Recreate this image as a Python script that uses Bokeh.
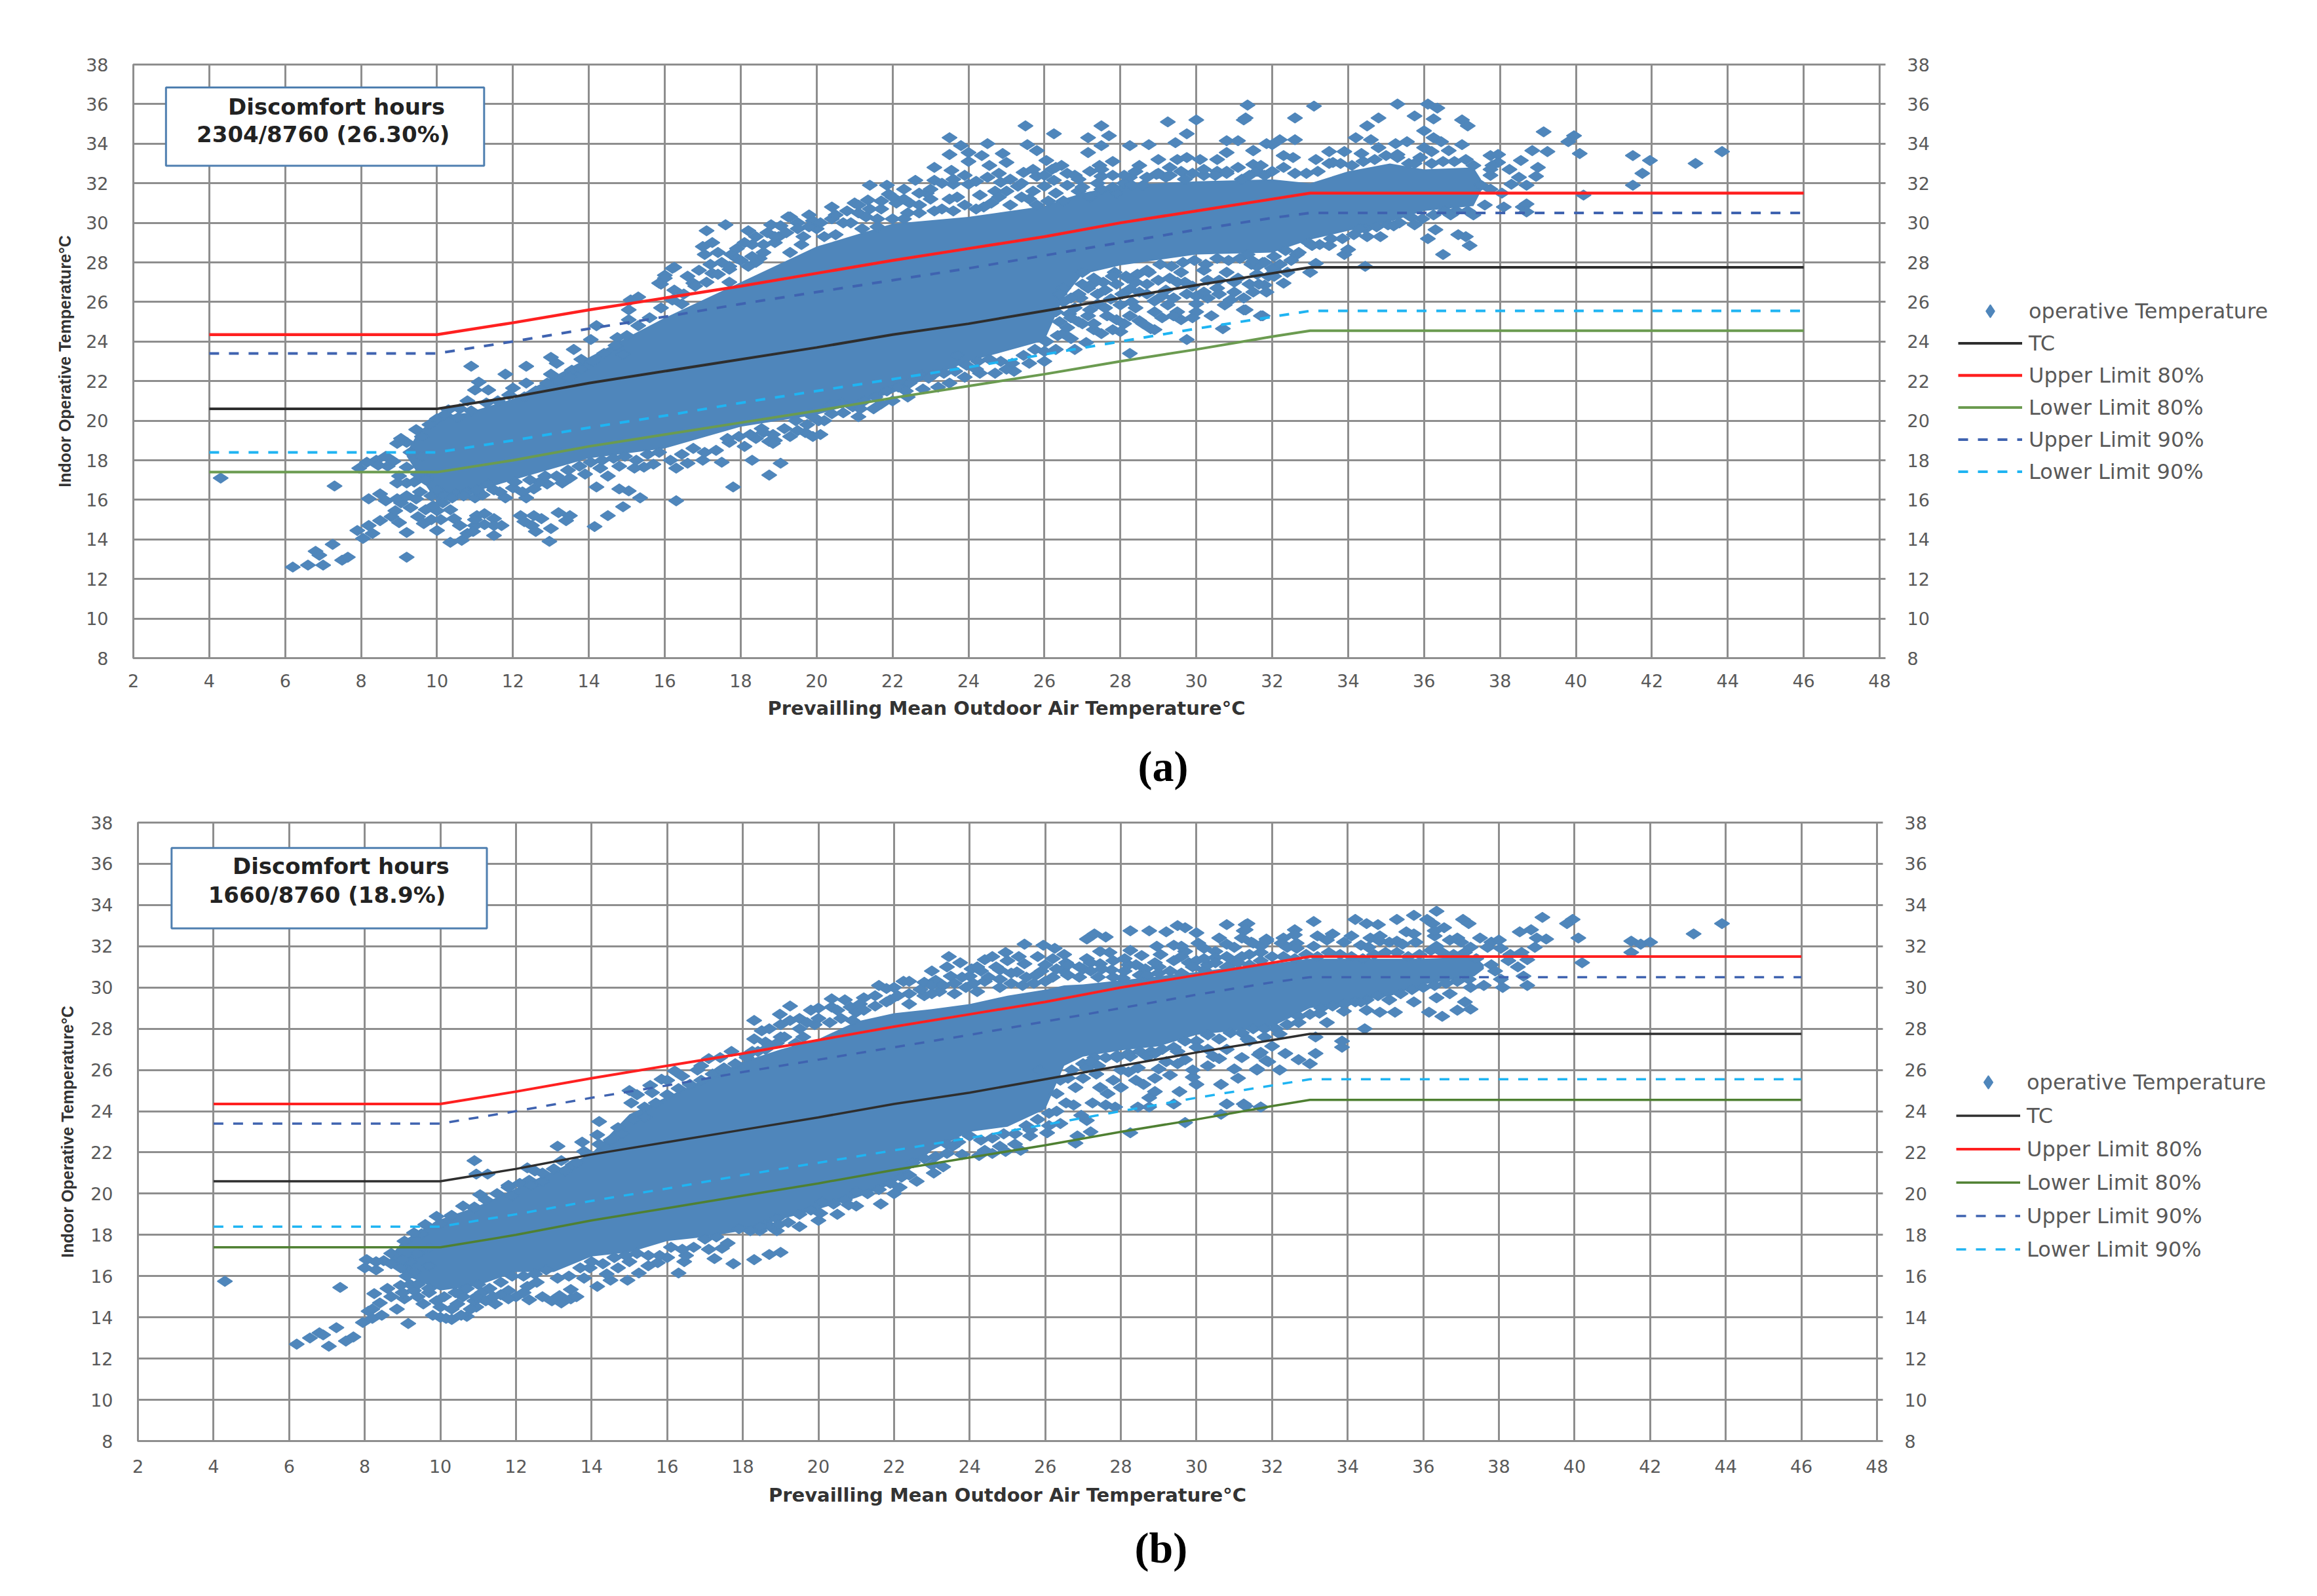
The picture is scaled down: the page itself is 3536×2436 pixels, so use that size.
from math import pi
from bokeh.plotting import figure
from bokeh.layouts import column, row
from bokeh.models import (Range1d, FixedTicker, LinearAxis, Legend, LegendItem,
                          BoxAnnotation, Label, Title)
from bokeh.embed import file_html
from bokeh.resources import INLINE

x_ticks = list(range(2, 50, 2))
y_ticks = list(range(8, 40, 2))

limit_x = [4, 10, 12, 14, 16, 18, 20, 22, 24, 26, 28, 30, 32, 33, 46]
tc =      [20.6, 20.6, 21.2, 21.9, 22.5, 23.1, 23.7, 24.35, 24.9, 25.55, 26.2, 26.85, 27.45, 27.75, 27.75]
upper80 = [24.35, 24.35, 24.95, 25.6, 26.2, 26.8, 27.45, 28.1, 28.7, 29.3, 30, 30.6, 31.2, 31.5, 31.5]
lower80 = [17.4, 17.4, 18, 18.7, 19.3, 19.9, 20.5, 21.15, 21.75, 22.35, 23, 23.6, 24.25, 24.55, 24.55]
upper90 = [23.4, 23.4, 24, 24.65, 25.25, 25.9, 26.5, 27.1, 27.7, 28.35, 29, 29.65, 30.25, 30.5, 30.5]
lower90 = [18.4, 18.4, 19, 19.65, 20.25, 20.9, 21.5, 22.1, 22.7, 23.35, 24, 24.65, 25.25, 25.55, 25.55]

# solid, fully overlapped part of each cloud (its lower and upper edge)
a_core_x = [9.2, 9.5, 10, 10.8, 12, 14, 16, 18, 20, 22, 24, 26, 26.5, 27, 28, 30, 32, 33, 34, 35.1, 36, 37.3, 37.5]
a_core_lo = [18.2, 17.3, 15.9, 16.3, 17, 18.1, 18.6, 19.7, 20.3, 21.4, 23, 24.05, 26.2, 27.4, 27.85, 28.4, 28.5, 29.15, 29.6, 30.05, 30.6, 30.85, 31.6]
a_core_hi = [18.4, 19.4, 20.2, 20.4, 21.1, 23.2, 25.2, 27, 28.8, 29.95, 30.3, 30.85, 31.2, 31.5, 31.9, 32.1, 32.2, 32, 32.6, 33, 32.7, 32.8, 32.2]
b_core_x = [8.7, 9, 10, 11, 12, 13, 14, 15, 16, 17, 18, 19, 20, 21, 22, 23, 24, 25, 26, 26.5, 27, 28, 29, 30, 31, 32, 33, 34, 35.15, 36, 37.35, 37.6]
b_core_lo = [16.8, 16.1, 15.3, 15.55, 16.2, 16.2, 16.95, 17.15, 17.7, 17.9, 18.2, 18.75, 19.25, 19.8, 20.5, 22.1, 23, 23.25, 24.1, 26.2, 26.65, 26.95, 27.15, 27.7, 27.9, 28.1, 29, 29.3, 29.6, 30.15, 30.55, 30.9]
b_core_hi = [17, 17.7, 18.75, 19.4, 20.25, 21.1, 21.95, 23.85, 24.7, 25.55, 26.4, 27, 27.5, 28.35, 28.75, 28.95, 29.2, 29.6, 29.9, 30.1, 30.15, 30.35, 30.55, 30.75, 31, 31.15, 31.4, 31.4, 31.4, 31.4, 31.5, 31.1]

# panel (a) points
a_left = [(6.2,12.6),(6.6,12.7),(7,12.7),(6.8,13.4),(6.9,13.2),(7.25,13.75),(7.5,12.95),(7.65,13.1),(7.3,16.7),(9.2,13.1),(4.3,17.1),
 (7.9,14.45),(8.05,14.05),(8.2,14.7),(8.3,14.3),(8.5,14.95),(8.8,15.15),(9,14.85),(9.2,14.35),(8.9,15.45),(9.05,15.85),(8.2,16.05),(8.5,16.3),(8.65,15.95),(8.95,16.05),(8.95,16.85),(9.2,16.85),(9.2,16.2),(9.45,16.05),(9.5,15.15),(9.65,14.8),(10,14.45),(9.85,15),(10.1,15),(10.45,15.05),(10,15.45),(10.15,15.85),(10.35,13.85),(10.65,13.95),(10.8,14.3),(11,14.7),(11.05,15.2),(11.25,15.3),(11.5,15.05),(11.7,14.7),(11.5,14.2),(11.25,14.75),(12.2,15.2),(12.55,15.2),(12.5,14.7),(12.6,14.4),(12.75,15.05),(13,14.55),(12.96,13.9),(13.2,15.35),(13.5,15.2),(13.4,14.95),(14.15,14.65),(14.5,15.2),(14.9,15.65),(16.3,15.95),(15.35,16.1),(15.05,16.45),(14.8,16.55),(14.2,16.65),(17.8,16.65),(18.75,17.25),(19.05,17.85),(18.3,18),
 (11,16.1),(11.8,16.1),(12.35,16.1),(12.55,16.55),(12.9,16.8),(13.3,16.85),(15.45,17.65),(16.3,17.6),(17.5,17.9),(14.5,17.2),(17.7,18.9),(18.75,18.95),
 (9.55,16.4),(9.85,16.2),(10.2,16.2),(10.5,16.3),(10.8,16.4),(11.2,16.25),(11.5,16.5),(12,16.6),(12.25,16.4),(12.7,16.9),(13.5,17.1),(13.9,17.3),(14.3,17.6),(14.8,17.7),(15.2,17.6),(15.7,17.8),(16.6,17.85),(17,18),(18.1,18.7),(18.4,19.1),(18.9,19),(19.3,19.2),(19.7,19.4),
 (9.4,16.9),(9.7,17.1),(9.3,15.6),(9.7,15.5),(9.9,15.7),(10.35,15.5),(10.6,14.7),(10.95,14.4),(11,15),(11.5,14.7),(12.3,14.9),(9,17.2),(8.7,17.7),(9.5,17.3),(8.4,18),(9.8,19.8),(9.2,18.9),(9.6,19.2)]
a_rise = [(10.9,22.75),(11.8,22.35),(12.35,22.75),(11.1,21.95),(11,21.55),(11.35,21.55),(12,21.65),(12.35,21.9),(13,23.2),(13.15,22.9),(13,22.35),(13.55,22.55),(13.6,23.6),(13.8,23.1),(14.05,24.1),(14.2,24.8),(14.75,24.2),(15.05,25.1),(15.3,26.25),(15.05,25.6),(15.85,26.95),(16,27.35),(16.25,27.75),(16.25,26.6),(16.45,25.9),(16.75,26.95),(17.25,27.45),(17.7,27.65),(17.7,27),(14.9,23.35),(10.8,21),(10.3,20.55),(10.55,20.15),(10,20.1),(9.45,19.55),(9.05,19.1),(8.95,18.85),(8.65,18.2),(8.15,17.9),(7.95,17.6),(9.2,17.65),(8.85,17.95),(9.6,18.2),(9.3,18.4),(8.45,17.75),
 (17.1,29.6),(17.6,29.9),(17,28.8),(17.05,28.4),(17.25,29),(17.75,28.4),(18.2,29.6),(18.3,28.9),(16.2,27.7),(16,27.2),(15.9,26.9),(15.1,26.1),(18.8,29.9),(19.3,30.3),(19.8,30.4),(20.4,30.8),(19,29.3),(18.5,28.2),(19.6,28.9),(19.3,28.5),(18.9,29),(18.6,28.5),(18.4,28),(18.2,27.8),(17.9,28.2),(17.4,28.5)]
a_upper = [(19.25,30.3),(20.4,30.2),(19.65,29.3),(20,29.7),(19.05,29.85),(21.4,31.9),(21.85,31.9),(21.35,31.15),(21.1,30.5),(21.9,31.45),(22.3,31.7),(22.6,32.15),(22.45,31),(22.9,31.5),(23.1,32.8),(23.5,34.3),(23.8,33.9),(23.5,33.45),(24,33.55),(24,33.1),(23.55,32.65),(23.1,32.15),(23.6,31.95),(24,31.95),(24.35,33.4),(24.5,34),(24.55,32.9),(24.9,33.5),(25,33.05),(25.5,34.9),(25.55,33.95),(25.8,33.65),(25.45,32.55),(25.8,32.35),(24.85,32.05),(24.7,31.6),(25.3,31.85),(26.05,33.15),(26.45,32.9),(26.25,34.5),(26.25,32.15),(26,31.85),(26.8,32.4),(27.15,34.3),(27.15,33.55),(27.5,33.9),(27.5,34.9),(27.7,34.4),(27.8,33.1),(27.45,32.9),(27.5,32.35),(28.25,33.9),(28.75,33.95),(29.45,34.05),(29.75,34.5),(29.25,35.1),(30,35.2),(31.25,35.2),(30.8,34.15),(31.1,34.15),(30.8,33.55),(32,33.95),(31.5,33.65),(29,33.2),(28.5,32.9),(29.5,33.2),(29.75,33.3),(30.1,33.2),(30.55,33.2),(29.3,32.8),(28.95,32.45),(28.25,32.3),(30.55,32.6),(31.5,32.95),(31.6,32.6),
 (20.5,29.4),(20.9,30),(21.3,30.3),(21.7,30.7),(21.6,30.2),(22.1,31),(22.4,30.5),(22.7,30.9),(23,31.2),(23.3,30.7),(23.7,31.3),(23.6,30.6),(24.3,31.4),(24.4,30.8),(24.8,31.3),(25.1,30.9),(25.6,31.2),(25.8,30.9),(26.3,31.5),(26.5,31.1),(26.9,31.6),(27.2,31.3),(27.5,31.7),(27.9,31.5),(28.1,32),(28.6,31.9),(29.2,32.3),(29.7,32.2),(30.2,32.4),(30.8,32.5),(31.2,32.2),(31.8,32.4),(21,31),
 (16.6,27.3),(16.9,27.6),(17.2,27.9),(17.5,28),(17.9,28.7),(18.1,29),(18.4,29.3),(18.7,29.5),(19.5,30),(19.9,30.1),(20.2,29.3),(20.7,30),(21.2,29.7),(21.6,29.8),(22,30.2),(22.3,30.2),(22.7,30.5),(23.1,30.6),(23.5,31.2),(23.9,30.9),(24.2,30.7),(24.6,31),(25,31.6),(25.4,31.3),(25.7,31.6),(26.1,31.1),(26.2,32.7),(26.6,31.9),(27,31.8),(27.4,32),(27.8,31.8),(28.3,31.9)]
a_edge_hi = [(10.2,20.3),(10.6,20.6),(10.9,20.5),(11.3,20.9),(11.6,21),(11.9,21.3),(12.3,21.2),(12.6,21.5),(12.9,21.9),(13.2,22),(13.5,22.2),(13.8,22.6),(14.1,23),(14.4,23.4),(14.7,23.8),(15,24.3),(15.3,24.8),(15.6,25.2),(15.9,25.7),(16.2,26.1),(16.5,26.4),(16.8,26.8),(17.1,27),(17.4,27.4),(17.7,27.8),(18,28.1),(18.3,28.3),(18.6,28.9),(18.9,29.3),(19.2,29.5),(19.5,29.7),(19.8,29.8),(20.1,30),(20.5,30.4),(20.8,30.6),(21.1,30.9),(21.4,30.7),(21.7,31.1),(22,31.3),(22.3,31.2),(22.7,31.5),(23,31.7),(23.3,32),(23.6,32.2),(23.9,32.4),(24.2,32.1),(24.5,32.3),(24.8,32.5),(25.1,32.2),(25.4,32),(25.7,32.7),(26,32.4),(26.3,32.8),(26.6,32.5),(26.9,32.2),(27.2,32.6),(27.5,32.7),(27.8,32.4),(28.1,32.4),(28.4,32.6),(28.7,32.3),(29,32.5),(29.3,32.4),(29.6,32.6),(29.9,32.5),(30.2,32.7),(30.5,32.4),(30.8,32.6),(31.1,32.8),(31.4,32.4),(31.7,32.9),(32,32.6),(32.3,32.8),(32.6,32.5),(32.9,32.5),(33.2,32.6),(33.5,33),(33.8,33),(34.1,32.9),(34.4,33.1),(34.7,33.2),(35,33.4),(35.3,33.3),(35.6,33),(35.9,33.3),(36.2,33),(36.5,33.1),(36.8,33.1),(37.1,33.2),(37.3,32.9)]
a_edge_lo = [(9.7,17),(10,16.5),(10.4,16.1),(10.7,16.2),(11.05,16.5),(11.35,16.8),(11.65,16.4),(12.05,16.9),(12.45,17),(12.85,17.2),(13.15,17.2),(13.45,17.5),(13.75,17.7),(14.05,17.9),(14.35,18),(14.65,18.1),(14.95,18.2),(15.25,18),(15.55,18.3),(15.85,18.4),(16.15,18),(16.45,18.3),(16.75,18.6),(17.05,18.4),(17.35,18.5),(17.65,19.1),(17.95,19.2),(18.25,19.3),(18.55,19.6),(18.85,19.3),(19.15,19.6),(19.45,20),(19.75,19.8),(20.05,20),(20.35,20.8),(20.65,20.9),(20.95,20.7),(21.25,21),(21.55,21.2),(21.85,21.5),(22.15,21.7),(22.45,21.9),(22.75,22.3),(23.05,22.3),(23.35,22.4),(23.65,22.5),(23.95,22.8),(24.25,23),(24.55,23.1),(24.85,23),(25.15,22.9),(25.45,23.3),(25.75,23.6),(26.05,24),(26.35,24.3),(26.65,25.4),(26.95,26.2),(27.25,26.9),(27.55,27),(27.85,27.5),(28.15,27.3),(28.45,27.4),(28.75,27.5),(29.05,27.9),(29.35,27.8),(29.65,28),(29.95,28.1),(30.25,27.9),(30.55,28.2),(30.85,28.1),(31.15,28.2),(31.45,27.9),(31.75,28),(32.05,28.3),(32.35,28.6),(32.65,28.4),(32.95,29),(33.25,28.9),(33.55,29.2),(33.85,29.2),(34.15,29.4),(34.45,29.7),(34.75,29.8),(35.05,29.9),(35.35,30),(35.65,30.3),(35.95,30.2),(36.25,30.4),(36.55,30.6),(36.85,30.6),(37.15,30.6),
 (19.9,20.2),(20.2,20),(20.7,20.4),(21.1,20.2),(21.5,20.6),(22,21),(22.4,21.2),(22.8,21.6),(23.2,21.7),(23.5,21.9),(23.9,22.2),(24.3,22.4),(24.7,22.4),(25.2,22.5),(25.6,22.9),(26,23),(26.3,23.6),(26.5,24.4),(19.9,19.2)]
a_lower = [(28.25,23.4),(29.75,24.1),(30.7,24.65),(31.75,25.3),(31.25,25.6),(28.8,24.65),(28.5,25.05),(29.6,25.1),(30,25.5),(29.75,26.4),(30.75,25.85),(31,26.5),(30.55,26.7),(31.8,26.85),(32.05,27.6),(30,26.3),(29.25,25.85),(28.9,26.05),(28.25,25.3),(27.8,24.6),(27.3,24.6),(27.1,23.95),(26.8,23.6),(26.7,24.15),(27.15,25.3),(27.65,25.3),(26.8,25.7),(27.15,26.7),(27.75,26.15),(28.25,26.65),(28.7,27.6),(29.6,27.5),(30.2,27.6),(30.8,27.5),(31.35,28.4),(27.8,27.3),(28,25.85),(26,23.5),(25,22.6),(24.2,22.6),(23.7,23.3),(22.95,22.15),(22.35,21.5),(21.7,20.85),(21.15,20.6),(20.4,20.35),(19.5,19.5),(18.85,18.85),(20.1,19.3),(18.6,19.4),
 (26.4,25),(26.5,26),(26.6,24.7),(27,24.9),(27.4,25.9),(27.6,26.6),(27.9,26.9),(28.1,24.9),(28.3,26),(28.4,27),(28.7,26.4),(28.9,25.5),(29.2,26.6),(29.3,27.2),(29.5,25.5),(29.9,26.8),(30.3,26.2),(30.3,27.1),(30.6,27.1),(31.1,27.2),(31.4,26.9),(31.6,27.8),(31.8,28),(29,27.1),(28.5,26.5),(29.7,27),(27.3,27.2),(27,27.5),(26.9,26.4),(26.5,26.7),
 (26.3,25.5),(26.4,26.4),(26.7,25.2),(26.7,26.2),(26.9,25),(27,26.9),(27.2,25.6),(27.3,24.9),(27.4,26.4),(27.5,24.4),(27.6,25.7),(27.9,25.1),(28,24.5),(28.05,26.4),(28.2,27.2),(28.4,25.7),(28.6,24.9),(28.7,26.9),(28.9,24.6),(29.1,25.2),(29.1,26.3),(29.4,25.3),(29.4,26.2),(29.5,27),(29.9,25.2),(30,25.9),(30.2,26.5),(30.4,25.3),(30.6,26.4),(30.9,26.1),(31,27),(31.25,26.2),(31.5,26.5),(31.6,27.4),(31.9,27.3),(32.2,27.9),(32.4,27.5),(32.5,28.1)]
a_right = [(31.35,35.95),(33.1,35.9),(35.3,36),(36.1,36),(36.35,35.8),(34.8,35.3),(34.5,34.9),(35.75,35.4),(36.25,35.25),(36,34.65),(32.6,35.3),(31.3,35.3),(37,35.2),(37.15,34.9),(32.2,34.2),(32.6,34.2),(31.85,34),(34.2,34.3),(34.6,34.2),(35.25,34),(35.55,34.1),(36.25,34.3),(36.45,34.1),(37,33.95),(34.8,33.8),(36,33.8),(36.2,33.6),(36.65,33.65),(33.5,33.6),(33.9,33.6),(34.35,33.5),(31.5,33.65),(32.3,33.4),(32.55,33.3),(35.3,33.45),(35.75,33),(33.15,33.2),(33.6,33.05),
 (37.75,33.4),(37.95,33.45),(37.95,33.05),(37.75,32.7),(38.55,33.15),(38.85,33.65),(39.25,33.6),(39.15,34.6),(39.95,34.4),(39.8,34.1),(40.1,33.5),(38.25,32.7),(39,32.8),(38.95,32.35),(38.5,32.3),(38.3,31.95),(38.7,31.9),(37.75,32.4),(37.75,31.7),(38.05,31.5),(37.6,30.9),(38.1,30.8),(38.6,30.8),(38.7,30.95),(38.7,30.55),(40.2,31.4),(37.3,30.4),(36.7,30.4),(35.75,29.9),(36.3,29.65),(36.1,29.2),(36.9,29.4),(37.1,29.3),(37.2,28.85),(36.5,28.4),(34.85,29.3),(34.5,29.3),(34.3,29.7),(35.2,29.85),(33.9,28.4),(34,28.65),(33.5,28.85),(33.05,28.85),(32.7,28.5),(33.15,27.95),(33,27.5),(34.45,27.8),(32,27.7),(32.3,26.95),(32.05,27.3),(31.65,26.9),(31.85,26.5),(31.5,28.05),(31.3,25.6),(31.7,25.3),(41.5,33.4),(41.95,33.15),(41.75,32.5),(41.5,31.9),(43.15,33),(43.85,33.6),(37.5,31.9),(37.8,32.9)]

# panel (b) points
b_left = [(4.3,15.75),(6.2,12.7),(6.55,13),(6.8,13.25),(6.9,13.15),(7.05,12.6),(7.25,13.5),(7.5,12.85),(7.7,13.05),(7.35,15.45),(9.15,13.7),(7.95,13.75),(8.2,13.95),(8.45,14.1),(8.2,14.4),(8.85,14.4),(10,14),(10.3,13.9),(10.7,14.05),(10.95,14.5),(11.45,14.65),(10.9,14.8),(10,14.5),(9.55,14.65),(10.45,14.65),(12.35,14.85),(12.95,14.8),(13.45,14.9),(13.45,15.35),(13.15,15.05),(14.15,15.5),(14.5,15.8),(14.95,15.8),(15.25,16.15),(16.3,16.15),(17.25,16.85),(17.75,16.6),(18.3,16.8),(18.7,17.05),(19,17.15),(8.25,15.15),(8.6,15.4),(8.95,15.55),(9.4,15),(9.05,14.9),(12.55,15.7),(11.8,15.3),(12,15),(8,16.4),(8.05,16.8),(8.5,16.75),(9.05,17.7),(8.95,16.4),(10.3,18.9),(10,18.55),(9.5,18.05),(10.9,19.35),(11.05,19.95),(10.9,21.6),(10.95,20.95),(11.25,20.95),(11.8,20.4),(12.3,21.25),(12.5,21.1),(12.35,20.65),(13.1,22.3),(13.75,22.5),(14.2,23.5),(14.7,23.2),(14.15,22.85),(13.8,22.05),(13.2,21.6),(15.05,24.4),(15,25),(15.2,24.8),(15.55,25.25),(16.2,25.95),(15.85,25.55),(16.9,26.2),(17.1,26.55),(17.3,25.85),(18.25,26.9),(13.95,16.4),(14.7,16.4),(15.75,16.65),(16.45,16.7),(17.45,17.35),(18.45,18.2),(18.9,18.2),
 (9.3,15.3),(9.7,15.2),(10.6,15.3),(11.1,15.2),(11.6,15.1),(12.3,15.5),(9.7,16.5),(9.2,16.7),(11.9,19.9),(12.7,20.6),(13.5,21.4),(14.4,22.2),
 (8.7,15),(9.2,15.6),(9.9,14.8),(10.3,14.4),(10.6,15),(10.95,15),(11.2,14.8),(11.4,15),(11.8,14.9),(12.2,15.2),(12.7,15),(13.2,14.7),(13.6,15),(9.8,14.1),(10.15,13.95),(10.55,14.1),(10.8,14.4),(8.4,14.7),(8.1,14.3),(9,15.2),(8.7,16.6),(9.3,16.2),(9,16.8),(8.3,16.7),(8.7,17.1),(8.3,16.3),(9.4,17.1),(9.7,17.4),
 (17.1,17.3),(16.5,17),(16,16.9),(15.5,16.5),(15,16.7),(14.4,16.1),(13.8,15.9)]
b_upper = [(19.25,29.1),(18.98,28.7),(19.8,28.9),(20.35,29.45),(20.35,29.05),(19.25,28.4),(18.3,28.4),(18.5,27.9),(18.6,27.35),(20.85,29.05),(21.2,29.5),(21.8,29.95),(22.25,30.3),(22.8,30.25),(23.45,31.5),(23.75,31.2),(24.05,30.9),(24.4,31.35),(24.6,31.5),(24.95,31.7),(25,31.3),(25.45,32.1),(25.95,32.05),(26.25,31.9),(25.8,31.5),(25.45,31.15),(24.8,30.85),(24,30.55),(23.5,30.55),(23.1,30.35),(27.1,32.35),(27.3,32.6),(27.6,32.45),(28.25,32.75),(28.75,32.75),(29.2,32.7),(29.5,33),(29.7,32.9),(30,32.65),(30.8,33.05),(31.3,33.05),(31.25,32.75),(30.05,32.15),(30.8,32.1),(31,31.95),(31.45,32.2),(31.85,32.35),(28.95,32),(29.4,32.05),(29.7,31.75),(30.5,31.75),(30.5,31.45),(28.25,31.8),(27.45,31.75),(27.1,31.4),(26.55,31.2),(28.55,31.55),(27.45,31.15),(27.75,30.85),(28.65,30.9),(29.8,31.2),(31,31.25),(30.2,30.85),(31.4,31.6),(29.05,31.6),(26.2,31.4),(26.45,30.85),(25.75,30.6),(25.25,30.75),(28.05,30.45),
 (20.6,28.5),(21,28.8),(21.5,29.1),(21.9,29.4),(22.4,29.7),(22.8,29.6),(23.2,29.8),(23.6,30.2),(24.1,30.2),(24.4,30.3),(24.8,30.4),(25.1,30.2),(25.5,30.5),(25.9,30.8),(26.2,30.5),(26.6,30.6),(27,30.9),(27.4,30.5),(27.8,31.3),(28.2,31.1),(28.5,30.6),(29,31),(29.4,31.3),(29.6,30.7),(30,31.3),(30.3,31.1),(30.8,31.5),(31.2,31.5),(31.7,31.7),(19.1,27.6),(19.5,28),(19.9,28.2),(18.9,27.3),(18.6,27),(18.1,26.7),(19.6,27.6),(20.3,28.3),(23,30.1),(24.3,30.8),(26.9,31),
 (15.4,23.7),(15.6,24.9),(16,25.5),(16.4,25.7),(16.8,26),(17.4,26.6),(17.7,26.9),(18.3,27.5),(18.7,28),(19,28.2),(19.5,28.5),(20,29),(20.7,29.4),(21.1,29.2),(21.6,30.1),(22,30),(22.4,30.3),(23,30.8),(23.4,31),(23.8,30.5),(24.2,31),(24.7,31),(25.3,31.5),(26,31.1),(26.5,31.6),(27.2,31.2),(27.7,31.7),(28.1,31.4),(28.9,31.2),(29.6,32),(30.2,31.9),(30.6,32.4),(31.2,32.4),(31.7,32),(32.3,32.4),(33.1,32),(33.6,32.6),(34.1,32.5),(34.6,32.4),(35.1,32.2),(35.8,32.2),(36.3,32.5),(36.9,32.4),(37.5,32.4)]
b_edge_hi = [(9.3,18.1),(9.6,18.5),(9.9,18.9),(10.3,18.95),(10.6,19.4),(10.9,19.3),(11.2,19.7),(11.5,20),(11.8,20.3),(12.1,20.5),(12.4,20.4),(12.7,21),(13,21.2),(13.3,21.1),(13.6,21.5),(13.9,21.9),(14.2,22.4),(14.5,22.6),(14.8,22.9),(15.1,23.6),(15.4,24.2),(15.7,24.4),(16,24.8),(16.3,25.1),(16.6,25.3),(16.9,25.5),(17.2,25.8),(17.5,26.1),(17.8,26.3),(18.1,26.6),(18.4,26.9),(18.7,27.2),(19,27.6),(19.4,27.3),(19.7,28.3),(20,28.5),(20.5,28.9),(20.9,28.4),(21.2,28.9),(21.5,29.6),(21.8,29.3),(22.1,29.6),(22.4,29.2),(22.7,29.9),(23,29.7),(23.3,30.1),(23.6,29.7),(23.9,30),(24.2,29.8),(24.5,30.5),(24.8,30),(25.1,30.7),(25.4,30.1),(25.7,30.2),(26,30.3),(26.3,30.9),(26.6,31.1),(26.9,30.5),(27.2,30.8),(27.5,30.9),(27.8,30.5),(28.1,30.8),(28.4,31.1),(28.7,30.6),(29,30.7),(29.3,30.8),(29.6,31.5),(29.9,31),(30.2,31.4),(30.5,31.2),(30.8,31),(31.1,31.2),(31.4,31.1),(31.7,31.3),(32,31.5),(32.3,31.5),(32.6,31.4),(32.9,31.6),(33.2,31.5),(33.5,31.7),(33.8,31.6),(34.1,31.5),(34.4,31.4),(34.7,31.6),(35,31.7),(35.3,31.7),(35.6,31.5),(35.9,31.6),(36.2,31.8),(36.5,31.7),(36.8,31.6),(37.1,31.7),(37.4,31.4)]
b_edge_lo = [(9.1,16),(9.4,15.6),(9.7,15.4),(10.1,15),(10.4,15.2),(10.7,15.4),(11,15.6),(11.3,15.4),(11.6,15.7),(11.9,16),(12.2,16),(12.5,16.1),(12.8,16.3),(13.1,15.9),(13.4,16),(13.7,16.4),(14,16.7),(14.3,16.6),(14.6,16.9),(14.9,17),(15.2,17.1),(15.5,17),(15.8,17),(16.1,17.4),(16.4,17.3),(16.7,17.4),(17,17.8),(17.3,17.9),(17.6,17.6),(17.9,18.3),(18.2,18.2),(18.6,18.5),(18.9,18.8),(19.2,18.6),(19.5,19),(19.8,19.2),(20.1,19.6),(20.4,19.5),(20.7,19.7),(21,20.1),(21.3,20),(21.6,20.2),(21.9,20.5),(22.2,20.8),(22.5,21.5),(22.8,21.7),(23.1,21.8),(23.4,22.4),(23.7,22.5),(24,22.8),(24.3,22.6),(24.6,22.7),(24.9,22.9),(25.2,22.9),(25.5,23.3),(25.8,23.6),(26.1,23.9),(26.4,25.5),(26.7,26),(27,26.3),(27.3,26.6),(27.6,26.6),(27.9,26.7),(28.2,26.8),(28.5,26.9),(28.8,26.9),(29.1,27),(29.4,27.1),(29.7,27.4),(30,27.4),(30.3,27.7),(30.6,27.5),(30.9,27.8),(31.2,27.8),(31.5,28),(31.8,28),(32.1,28),(32.4,28.2),(32.7,28.6),(33,28.7),(33.3,29),(33.6,29.1),(33.9,29.2),(34.2,29.3),(34.5,29.4),(34.8,29.6),(35.1,29.4),(35.4,29.7),(35.7,29.9),(36,30),(36.3,30.1),(36.6,30.2),(36.9,30.3),(37.2,30.4),
 (19.5,18.4),(20,18.7),(20.5,19),(21,19.4),(22,20),(22.6,20.6),(23,21.4),(23.3,21.3),(23.8,21.9),(24.4,22.1),(24.8,22.3),(25.2,22.4),(25.6,23.1),(26.1,23.3),(26.3,24)]
b_lower = [(23.05,21),(21.65,19.5),(18.7,18.45),(18.45,18.4),(18.95,18.5),(20.05,19.05),(20.8,19.45),(22.15,20.3),(22.4,20.9),(23.4,21.95),(24.25,21.85),(24.6,21.95),(24.95,22.05),(25.35,22.1),(23.55,22.3),(25.6,22.8),(26.05,22.95),(26.8,22.45),(27.2,23),(26.85,22.8),(28.25,22.95),(29.7,23.45),(30.65,23.85),(27.1,23.55),(26.4,23.4),(26.95,23.8),(28.45,24.2),(28.75,24.2),(29.4,24.35),(30.8,24.35),(31.25,24.35),(31.7,24.2),(30.65,25.3),(31.1,25.6),(29.55,24.95),(28.75,24.65),(28.9,24.95),(31.6,26.05),(31,26.05),(30,25.3),(29.9,25.65),(29.9,26),(29.3,25.75),(29,26.05),(29.5,26.3),(30.6,26.55),(30.45,26.65),(31.65,26.75),(31.9,26.4),(28.4,25.5),(28,25.15),(27.65,24.85),(27.35,25.8),(27.1,26.1),(28,26),(28.45,26.1),(28.25,26.65),(28.7,26.65),(27.6,24.3),(27.25,24.4),(26.75,24.3),(27.45,25.15),(26.8,25.15),(26.3,24.85),(26.55,24.4),(27.85,24.2),(25.85,26),
 (26.6,25.6),(27,25.6),(27.4,26.2),(27.8,25.5),(28.2,25.9),(28.6,25.3),(28.9,25.6),(29.2,26.4),(29.7,26.5),(30.3,26.2),(30.3,27),(30.8,27),(31.2,26.6),(31.4,27.4),(31.8,27.6),(30,27.1),(29.5,26.9),(28.9,26.8),(27.9,26.6),(27.2,26.4)]
b_right = [(33.1,33.2),(34.2,33.3),(34.5,33.1),(34.8,33.05),(35.3,33.3),(35.75,33.5),(36.35,33.7),(36.1,33.3),(36.25,33.1),(36.3,32.75),(36.55,32.9),(37.05,33.3),(37.2,33.1),(35.55,32.7),(35.75,32.6),(32.6,32.8),(32.6,32.55),(31.35,33.1),(31.3,32.8),(33.2,32.5),(33.45,32.3),(33.9,32.2),(34.85,32.5),(34.85,32.25),(35.3,32.25),(35.45,32.1),(34.35,32.05),(31.5,32.15),(31.85,32.25),(32.25,32.15),(32.65,32.15),(32.4,31.95),(32.65,31.9),(34.55,31.95),(36.7,32.3),(37,32.2),(36.35,32),(37.25,31.95),(37.8,32.2),(38,32.3),(37.7,31.95),(38.05,31.9),(38.55,32.7),(38.85,32.8),(39.15,33.4),(39.95,33.3),(39.8,33.1),(40.1,32.4),(39.25,32.35),(39,32.4),(38.95,31.95),(38.6,31.7),(38.3,31.6),(38.75,31.35),(38.5,31),(38.65,30.55),(38.75,30.1),(38.1,30),(38.05,30.4),(37.6,30.1),(37.25,30),(37.8,31.1),(37.9,30.8),(38.25,31.3),(40.2,31.2),(41.5,32.25),(41.75,32.1),(42,32.2),(41.5,31.7),(43.15,32.6),(43.9,33.1),(35.75,29.3),(36.35,29.5),(36.7,29.7),(37.1,29.3),(37.25,28.95),(36.9,28.9),(36.15,28.8),(36.5,28.6),(35.25,28.8),(34.85,28.8),(34.5,28.9),(34.35,29.3),(33.9,28.85),(33.45,28.3),(34.45,28),(33.15,27.6),(33.85,27.4),(33.85,27.1),(33.15,26.8),(33,26.3),(32.7,26.5),(32.35,26.8),(32.2,26),(31.6,26),(31.85,26.45),(31.7,26.85),(32,27.15),(32.2,27.75),(31.35,27.5),(32.7,28.3),(33.25,28.75),(31.7,24.2),(31.3,24.25)]

GRID = "#8e8e8e"
BLUE = "#4f86bb"
TICK = "#595959"
LABELS = ["operative Temperature", "TC", "Upper Limit 80%", "Lower Limit 80%", "Upper Limit 90%", "Lower Limit 90%"]


def draw_series(p, points, dark_green, line_w):
    xs = [q[0] for q in points]
    ys = [q[1] for q in points]
    return [p.scatter(xs, ys, marker="diamond", size=23, angle=pi / 2, fill_color=BLUE, line_color=BLUE, line_width=1.5),
            p.line(limit_x, tc, line_color="#2e2e2e", line_width=line_w),
            p.line(limit_x, upper80, line_color="#ff2020", line_width=line_w + 0.5),
            p.line(limit_x, lower80, line_color=dark_green, line_width=line_w),
            p.line(limit_x, upper90, line_color="#3f63b0", line_width=line_w, line_dash="15 15"),
            p.line(limit_x, lower90, line_color="#1fb4f2", line_width=line_w, line_dash="15 15")]


def panel(points, core, width, height, left, right, top, bottom, box, text1, text2, t1, t2, cap, cap_offset, cap_standoff,
          dark_green, line_w, label_gap, title_gap, ylabel_gap):
    p = figure(width=width, height=height, output_backend="svg", toolbar_location=None,
               x_range=Range1d(2, 48), y_range=Range1d(8, 38),
               min_border_left=left, min_border_right=right, min_border_top=top, min_border_bottom=bottom,
               background_fill_color="white", border_fill_color="white",
               x_axis_label="Prevailling Mean Outdoor Air Temperature°C",
               y_axis_label="Indoor Operative Temperature°C")
    p.outline_line_color = GRID
    p.outline_line_width = 3
    p.xaxis.ticker = FixedTicker(ticks=x_ticks)
    p.yaxis.ticker = FixedTicker(ticks=y_ticks)
    p.xgrid.ticker = FixedTicker(ticks=x_ticks)
    p.ygrid.ticker = FixedTicker(ticks=y_ticks)
    for g in (p.xgrid, p.ygrid):
        g.grid_line_color = GRID
        g.grid_line_width = 3
    ra = LinearAxis(ticker=FixedTicker(ticks=y_ticks))
    p.add_layout(ra, "right")
    for ax in (p.xaxis[0], p.yaxis[0], ra):
        ax.axis_line_color = GRID
        ax.axis_line_width = 3
        ax.major_tick_line_color = GRID
        ax.major_tick_line_width = 3
        ax.minor_tick_line_color = None
        ax.major_tick_in = 0
        ax.major_tick_out = 0
        ax.major_label_text_font = "DejaVu Sans"
        ax.major_label_text_font_size = "27px"
        ax.major_label_text_color = TICK
    ra.major_tick_out = 9
    ra.major_label_standoff = 33
    p.yaxis[0].major_label_standoff = 38
    p.xaxis[0].major_label_standoff = label_gap
    p.xaxis[0].axis_label_text_font = "DejaVu Sans"
    p.xaxis[0].axis_label_text_font_size = "29px"
    p.xaxis[0].axis_label_text_font_style = "bold"
    p.xaxis[0].axis_label_text_color = "#333333"
    p.xaxis[0].axis_label_standoff = title_gap
    p.yaxis[0].axis_label_text_font = "Liberation Sans"
    p.yaxis[0].axis_label_text_font_size = "25px"
    p.yaxis[0].axis_label_text_font_style = "bold"
    p.yaxis[0].axis_label_text_color = "#333333"
    p.yaxis[0].axis_label_standoff = ylabel_gap

    p.varea(x=core[0], y1=core[1], y2=core[2], fill_color=BLUE)
    draw_series(p, points, dark_green, line_w)

    p.add_layout(BoxAnnotation(left=box[0], right=box[1], bottom=box[2], top=box[3], fill_color="white", fill_alpha=1,
                               line_color="#4f7fb0", line_alpha=1, line_width=3, level="overlay"))
    for txt, (tx, ty) in ((text1, t1), (text2, t2)):
        p.add_layout(Label(x=tx, y=ty, text=txt, text_align="center", text_baseline="middle", text_font="DejaVu Sans",
                           text_font_style="bold", text_font_size="34px", text_color="#222222", level="overlay"))
    p.add_layout(Title(text=cap, align="left", offset=cap_offset, standoff=cap_standoff,
                       text_font="Liberation Serif", text_font_style="bold", text_font_size="66px", text_color="black"),
                 "below")
    return p


def legend_panel(points, width, height, place, gap, dark_green, line_w):
    # a figure that only carries the legend; its range shows none of the series
    p = figure(width=width, height=height, output_backend="svg", toolbar_location=None,
               x_range=Range1d(-2, -1), y_range=Range1d(-2, -1), min_border=0, outline_line_color=None,
               background_fill_color="white", border_fill_color="white")
    p.axis.visible = False
    p.grid.visible = False
    rs = draw_series(p, points, dark_green, line_w)
    leg = Legend(items=[LegendItem(label=t, renderers=[r]) for t, r in zip(LABELS, rs)],
                 location=place, border_line_color=None, background_fill_alpha=0, glyph_width=98, glyph_height=gap,
                 label_standoff=10, spacing=0, padding=0, margin=0, label_height=gap,
                 label_text_font="DejaVu Sans", label_text_font_size="32px", label_text_color=TICK)
    p.add_layout(leg, "center")
    return p


a_points = a_left + a_rise + a_upper + a_edge_hi + a_edge_lo + a_lower + a_right
b_points = b_left + b_upper + b_edge_hi + b_edge_lo + b_lower + b_right

pa = panel(a_points, (a_core_x, a_core_lo, a_core_hi), 2951, 1240, 203, 83, 98, 236,
           (2.86, 11.24, 32.88, 36.84), "Discomfort hours", "2304/8760 (26.30%)", (7.35, 35.86), (7.0, 34.47),
           "(a)", 1533, 60, "#6b9b50", 4, 24, 12, 15)
la = legend_panel(a_points, 569, 1240, (37, 260), 49, "#6b9b50", 4)
pb = panel(b_points, (b_core_x, b_core_lo, b_core_hi), 2947, 1185, 210, 83, 15, 226,
           (2.89, 11.23, 32.87, 36.77), "Discomfort hours", "1660/8760 (18.9%)", (7.37, 35.88), (7.0, 34.5),
           "(b)", 1521, 44, "#4f8032", 3.5, 28, 14, 18)
lb = legend_panel(b_points, 573, 1185, (38, 267), 51, "#4f8032", 3.5)

open("out.html", "w").write(file_html(column(row(pa, la, spacing=0), row(pb, lb, spacing=0), spacing=0), INLINE))
